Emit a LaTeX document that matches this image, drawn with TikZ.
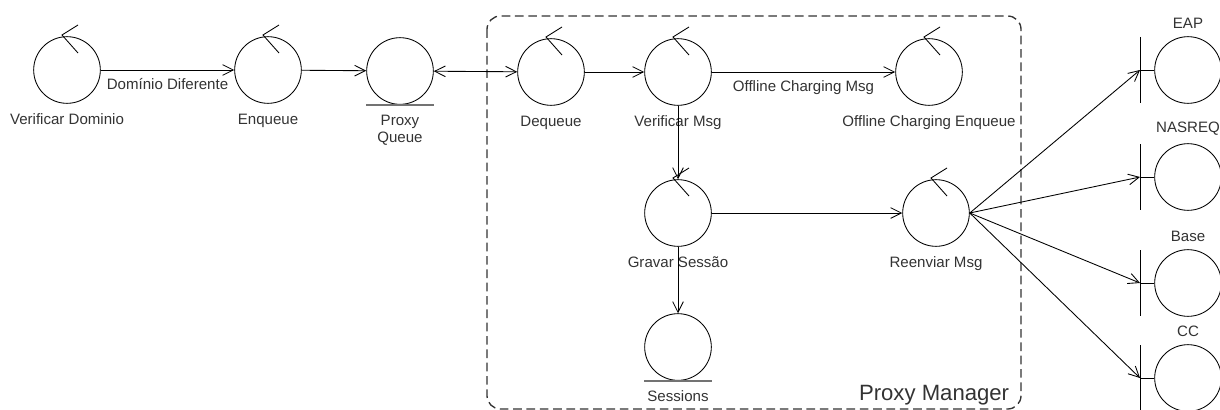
\documentclass[tikz,border=0pt]{standalone}
\usepackage{fontspec}
\setmainfont{Liberation Sans}
\usetikzlibrary{arrows.meta,positioning}
\tikzset{>={Straight Barb[length=8pt,width=8pt]}}

\begin{document}
\begin{tikzpicture}[x=0.75pt,y=-0.75pt,line width=0.65pt,
		lbl/.style={font=\fontsize{11.3}{13}\selectfont, text=black!80},
		lab/.style={label={[lbl,align=center,label distance=4pt]below:{#1}}},
		ctrl/.style={circle, draw, minimum size=50pt, inner sep=0pt},
		ent/.style={ctrl},
		bnd/.style={ctrl},
		entline/.style={draw=black!55, line width=1.4pt},
		pmbox/.style={draw=black!80, line width=1pt, dash pattern=on 6.5pt off 3.5pt, rounded corners=10pt},
		node distance=1cm]
		\useasboundingbox (0,0) rectangle (1220,410);
		% proxy manager
		\draw[pmbox] (487,16) rectangle (1021,409);
		\node[lbl, font=\fontsize{16.6}{18}\selectfont, anchor=east] (pmname) at (1014,395) {Proxy Manager};
		
		\node[ctrl, lab=Verificar Dominio] (vdom) at (67,70) {};
		\node[ctrl, lab=Enqueue] (enq) at (268,70) {};
		\node[ent, lab={Proxy\\Queue}] (pq) at (400,71) {};
		\node[ctrl, lab=Dequeue] (deq) at (551,72) {};
		\node[ctrl, lab=Verificar Msg] (vmsg) at (678,72) {};
		\node[ctrl, lab=Offline Charging Enqueue] (oce) at (929,72) {};
		\node[ctrl, lab=Gravar Sessão, on grid] (grav) [below=105.75pt of vmsg] {};
		\node[ctrl, lab=Reenviar Msg, on grid] (reen) [right=193.5pt of grav] {};
		\node[ent, lab=Sessions, on grid] (sess) [below=100.5pt of grav] {};
		
		\foreach \n in {vdom,enq,deq,vmsg,oce,grav,reen}
			\draw (\n.center) ++(11,-45) -- ++(-16,10) -- ++(16,18);
		\foreach \n in {pq,sess}
			\draw[entline] (\n.south) ++(-34,0) -- ++(68,0);
		
		\path[->]
			(vdom) edge node[lbl, below=3pt] (ddlbl) {Domínio Diferente} (enq)
			(enq) edge (pq)
			(deq) edge (vmsg)
			(vmsg) edge node[lbl, below=3pt] (ocmlbl) {Offline Charging Msg} (oce)
			(vmsg) edge (grav)
			(grav) edge (reen)
			(grav) edge (sess);
		\draw[<->] (pq) -- (deq);
		
		% interfaces
		\foreach \b/\t/\yy in {eap/EAP/70, nasreq/NASREQ/177, base/Base/283, cc/CC/378} {
			\node[bnd, label={[lbl,label distance=2pt]above:\t}] (\b) at (1188,\yy) {};
			\coordinate (\b bar) at (1140,\yy);
			\draw (\b bar) ++(0,-33) -- ++(0,66);
			\draw (\b bar) -- (\b);
			\draw[->] (reen.east) -- (\b bar);
		}
	\end{tikzpicture}
\end{document}
